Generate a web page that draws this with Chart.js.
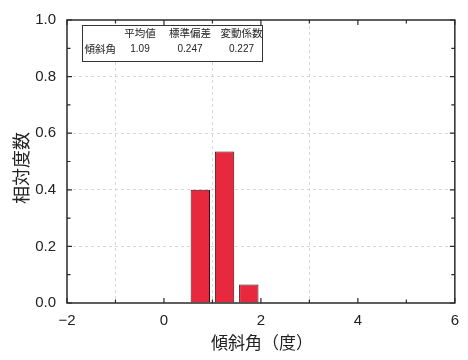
<!DOCTYPE html>
<html>
<head>
<meta charset="utf-8">
<script src="https://cdn.jsdelivr.net/npm/chart.js@4.4.1/dist/chart.umd.min.js"></script>
<style>
  html, body { margin: 0; padding: 0; background: #fff; }
  #wrap { width: 468px; height: 360px; }
</style>
</head>
<body>
<div id="wrap"><canvas id="c" width="468" height="360"></canvas></div>
<script>
// Histogram of tilt angles: bin centres (deg) and relative frequency
const binCenters = [0.75, 1.25, 1.75];
const relFreq = [0.40, 0.535, 0.065];

// Summary statistics table
const statHeaders = ['平均値', '標準偏差', '変動係数'];
const statRowLabel = '傾斜角';
const statValues = ['1.09', '0.247', '0.227'];

const xTitle = '傾斜角（度）';
const yTitle = '相対度数';

const FRAME = '#2a2a2a';
const LATIN = '"Liberation Sans", Arial, sans-serif';
const CJK = '"Noto Sans CJK JP", "Noto Sans CJK SC", sans-serif';

// Frame with inward major/minor ticks, axis titles and the stats table
const decor = {
  id: 'decor',
  afterDraw(chart) {
    const ctx = chart.ctx;
    const a = chart.chartArea;
    const xs = chart.scales.x, ys = chart.scales.y;
    ctx.save();
    ctx.strokeStyle = FRAME;
    ctx.lineWidth = 1.5;
    ctx.strokeRect(a.left, a.top, a.right - a.left, a.bottom - a.top);

    ctx.lineWidth = 1.2;
    ctx.beginPath();
    for (let v = -2; v <= 6; v += 1) {
      const px = xs.getPixelForValue(v);
      const len = (v % 2 === 0) ? 5 : 3.5;
      ctx.moveTo(px, a.bottom); ctx.lineTo(px, a.bottom - len);
      ctx.moveTo(px, a.top); ctx.lineTo(px, a.top + len);
    }
    for (let i = 0; i <= 10; i++) {
      const py = ys.getPixelForValue(i / 10);
      const len = (i % 2 === 0) ? 5 : 3.5;
      ctx.moveTo(a.left, py); ctx.lineTo(a.left + len, py);
      ctx.moveTo(a.right, py); ctx.lineTo(a.right - len, py);
    }
    ctx.stroke();

    // axis titles
    ctx.fillStyle = '#222';
    ctx.font = '17px ' + CJK;
    ctx.textAlign = 'center';
    ctx.textBaseline = 'middle';
    ctx.fillText(xTitle, (a.left + a.right) / 2 + 1, 343);
    ctx.save();
    ctx.translate(21, 168);
    ctx.rotate(-Math.PI / 2);
    ctx.font = '18px ' + CJK;
    ctx.fillText(yTitle, 0, 0);
    ctx.restore();

    // statistics table
    ctx.lineWidth = 1;
    ctx.strokeStyle = '#333';
    ctx.fillStyle = '#fff';
    ctx.fillRect(82.5, 25.5, 180, 36);
    ctx.strokeRect(82.5, 25.5, 180, 36);
    ctx.fillStyle = '#222';
    const cols = [140, 190, 241.5];
    ctx.font = '10.5px ' + CJK;
    statHeaders.forEach((h, i) => ctx.fillText(h, cols[i], 33));
    ctx.textAlign = 'left';
    ctx.fillText(statRowLabel, 84.5, 49);
    ctx.textAlign = 'center';
    ctx.font = '10px ' + LATIN;
    statValues.forEach((v, i) => ctx.fillText(v, cols[i], 49));
    ctx.restore();
  }
};

new Chart(document.getElementById('c'), {
  type: 'bar',
  data: {
    datasets: [{
      data: binCenters.map((x, i) => ({ x: x, y: relFreq[i] })),
      backgroundColor: '#e8293d',
      borderColor: '#3a0f12',
      borderWidth: 1,
      categoryPercentage: 1.0,
      barPercentage: 0.8
    }]
  },
  options: {
    responsive: false,
    animation: false,
    layout: { padding: { left: 0, right: 8, top: 13, bottom: 0 } },
    plugins: { legend: { display: false }, tooltip: { enabled: false } },
    scales: {
      x: {
        type: 'linear',
        min: -2, max: 6,
        offset: false,
        afterFit(s) { s.height = 57; },
        ticks: {
          stepSize: 2,
          padding: 9,
          color: '#222',
          font: { family: LATIN, size: 15 },
          callback: v => (v < 0 ? '\u2212' + Math.abs(v) : String(v))
        },
        grid: {
          drawTicks: false,
          color: ctx => (ctx.tick && (ctx.tick.value === -2 || ctx.tick.value === 6)) ? 'rgba(0,0,0,0)' : '#cfcfcf',
          lineWidth: 0.8
        },
        border: { display: false, dash: [3, 3] }
      },
      y: {
        min: 0, max: 1,
        afterFit(s) { s.width = 67; },
        ticks: {
          stepSize: 0.2,
          padding: 11,
          color: '#222',
          font: { family: LATIN, size: 15 },
          callback: v => v.toFixed(1)
        },
        grid: {
          drawTicks: false,
          color: ctx => (ctx.tick && (ctx.tick.value === 0 || ctx.tick.value === 1)) ? 'rgba(0,0,0,0)' : '#cfcfcf',
          lineWidth: 0.8
        },
        border: { display: false, dash: [3, 3] }
      }
    }
  },
  plugins: [decor]
});
</script>
</body>
</html>
